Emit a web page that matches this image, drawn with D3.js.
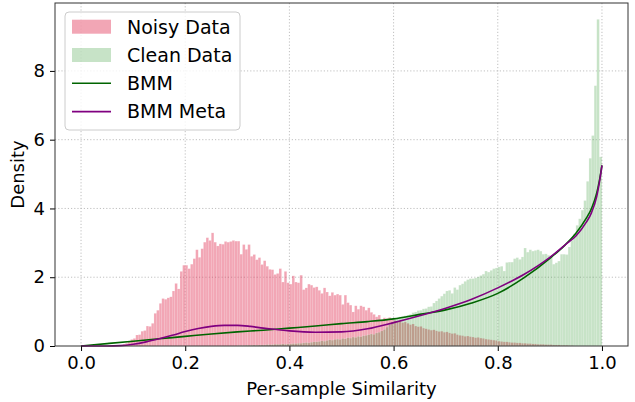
<!DOCTYPE html>
<html>
<head>
<meta charset="utf-8">
<script src="https://cdn.jsdelivr.net/npm/d3@7"></script>
<style>
  body { margin: 0; background: #fff; }
  svg { font-family: "DejaVu Sans", sans-serif; }
  .grid line { stroke: #b0b0b0; stroke-dasharray: 1.2,2; stroke-width: 0.8; }
</style>
</head>
<body>
<div id="chart"></div>
<script>
// histogram bins are 0.005 wide; each series lists densities from its first bin edge
var BIN_W = 0.005;

var noisyStart = 0.080;
var noisyDensity = [
  0.05, 0.08, 0.12, 0.19, 0.22, 0.32, 0.33, 0.43, 0.45, 0.58,
  0.57, 0.66, 0.95, 1.04, 1.24, 1.38, 1.36, 1.40, 1.43, 1.60,
  1.82, 1.66, 2.17, 2.35, 2.35, 2.25, 2.38, 2.54, 2.80, 2.58,
  2.83, 3.02, 3.15, 3.07, 3.29, 3.02, 2.91, 2.97, 2.96, 3.04,
  3.02, 3.04, 3.07, 3.05, 3.05, 2.67, 2.95, 2.81, 2.95, 2.61,
  2.66, 2.51, 2.57, 2.37, 2.48, 2.32, 2.23, 2.22, 2.08, 2.11,
  2.25, 1.86, 2.17, 1.84, 1.80, 2.04, 1.86, 1.84, 2.06, 1.64,
  1.69, 1.80, 1.77, 1.70, 1.72, 1.62, 1.53, 1.69, 1.57, 1.46,
  1.56, 1.48, 1.51, 1.48, 1.21, 1.48, 1.26, 1.19, 0.99, 1.17,
  1.07, 1.17, 1.14, 1.04, 1.11, 0.98, 0.92, 0.85, 0.90, 0.75,
  0.82, 0.80, 0.83, 0.78,
  0.74, 0.70, 0.72, 0.68, 0.70, 0.66, 0.62, 0.64, 0.58, 0.56,
  0.57, 0.52, 0.50, 0.48, 0.46, 0.47, 0.44, 0.42, 0.43, 0.40,
  0.41, 0.38, 0.36, 0.37, 0.33, 0.31, 0.30, 0.28, 0.29, 0.27,
  0.26, 0.24, 0.25, 0.23, 0.22, 0.20, 0.19, 0.18, 0.17, 0.16,
  0.14, 0.13, 0.12, 0.12, 0.11, 0.10, 0.10, 0.09, 0.09, 0.08,
  0.08, 0.07, 0.07, 0.06, 0.06, 0.05, 0.05, 0.05, 0.04, 0.04,
  0.04, 0.03, 0.03, 0.03, 0.02, 0.02, 0.02, 0.01, 0.01
];

var cleanStart = 0.300;
var cleanDensity = [
  0.01, 0.01, 0.01, 0.02, 0.02, 0.02, 0.03, 0.02, 0.03, 0.03,
  0.03, 0.04, 0.04, 0.04, 0.05, 0.05, 0.05, 0.06, 0.05, 0.06,
  0.06, 0.07, 0.07, 0.08, 0.08, 0.09, 0.10, 0.09, 0.11, 0.12,
  0.12, 0.13, 0.15, 0.14, 0.16, 0.18, 0.17, 0.19, 0.20, 0.19,
  0.22, 0.21, 0.24, 0.23, 0.26, 0.25, 0.28, 0.27, 0.30, 0.31,
  0.33, 0.35, 0.34, 0.38, 0.40, 0.44, 0.48, 0.55, 0.62, 0.70,
  0.80, 0.82, 0.85, 0.86, 0.88, 0.90, 0.92, 0.97, 0.99, 1.03,
  1.04, 1.08, 1.09, 1.14, 1.15, 1.25, 1.31, 1.38, 1.45, 1.52,
  1.60, 1.62, 1.53, 1.70, 1.64, 1.77, 1.81, 1.88, 1.93, 1.96,
  1.96, 1.98, 2.01, 2.05, 2.09, 2.18, 2.15, 2.20, 2.25, 2.27,
  2.30, 2.32, 2.18, 2.43, 2.44, 2.44, 2.54, 2.57, 2.52, 2.59,
  2.85, 2.73, 2.80, 2.76, 2.78, 2.80, 2.76, 2.67, 2.68, 2.64,
  2.59, 2.38, 2.42, 2.47, 2.67, 2.67, 2.66, 2.88, 3.07, 3.26,
  3.51, 3.70, 3.95, 4.23, 4.79, 5.46, 6.12, 7.57, 9.50, 5.50
];

// fitted mixture densities
var bmmX = [0, 0.05, 0.1, 0.15, 0.2, 0.25, 0.3, 0.35, 0.4, 0.45, 0.5, 0.55, 0.6, 0.65,
            0.7, 0.75, 0.8, 0.85, 0.9, 0.93, 0.95, 0.97, 0.98, 0.99, 0.995, 1.0];
var bmmY = [0, 0.07, 0.14, 0.21, 0.28, 0.35, 0.41, 0.46, 0.52, 0.58, 0.65, 0.71, 0.79, 0.92,
            1.05, 1.25, 1.53, 1.98, 2.55, 2.95, 3.28, 3.72, 4.0, 4.45, 4.8, 5.25];

var metaX = [0, 0.05, 0.075, 0.1, 0.125, 0.15, 0.175, 0.2, 0.225, 0.25, 0.275, 0.3, 0.325,
             0.35, 0.375, 0.4, 0.45, 0.5, 0.55, 0.6, 0.65, 0.7, 0.75, 0.8, 0.85, 0.9,
             0.93, 0.95, 0.97, 0.98, 0.99, 0.995, 1.0];
var metaY = [0, 0.0, 0.01, 0.05, 0.12, 0.21, 0.31, 0.42, 0.51, 0.57, 0.60, 0.60, 0.57,
             0.52, 0.48, 0.44, 0.40, 0.41, 0.50, 0.68, 0.88, 1.10, 1.36, 1.69, 2.08, 2.58,
             2.95, 3.2, 3.6, 3.88, 4.35, 4.75, 5.25];

var xTicks = [0.0, 0.2, 0.4, 0.6, 0.8, 1.0];
var yTicks = [0, 2, 4, 6, 8];

var legendItems = [
  {label: "Noisy Data", kind: "patch", key: "noisy"},
  {label: "Clean Data", kind: "patch", key: "clean"},
  {label: "BMM", kind: "line", key: "bmm"},
  {label: "BMM Meta", kind: "line", key: "meta"}
];

var colors = {
  noisy: {fill: "crimson", opacity: 0.38},
  clean: {fill: "green", opacity: 0.22},
  bmm: "#006400",
  meta: "#800080"
};

var W = 635, H = 402;
var margin = {top: 3, right: 7, bottom: 56, left: 55};
var width = W - margin.left - margin.right;
var height = H - margin.top - margin.bottom;

var svg = d3.select("#chart").append("svg")
    .attr("width", W)
    .attr("height", H);

var g = svg.append("g")
    .attr("transform", "translate(" + margin.left + "," + margin.top + ")");

var x = d3.scaleLinear().domain([-0.05, 1.05]).range([0, width]);
var yMax = d3.max(noisyDensity.concat(cleanDensity)) * 1.05;
var y = d3.scaleLinear().domain([0, yMax]).range([height, 0]);

// grid
g.append("g").attr("class", "grid")
  .selectAll("line.vx").data(xTicks).enter().append("line")
    .attr("x1", function (d) { return x(d); })
    .attr("x2", function (d) { return x(d); })
    .attr("y1", 0).attr("y2", height);
g.append("g").attr("class", "grid")
  .selectAll("line.hy").data(yTicks.slice(1)).enter().append("line")
    .attr("x1", 0).attr("x2", width)
    .attr("y1", function (d) { return y(d); })
    .attr("y2", function (d) { return y(d); });

function drawHist(values, start, style) {
  var bins = values.map(function (v, i) {
    return {x0: start + i * BIN_W, x1: start + (i + 1) * BIN_W, v: v};
  });
  g.append("g").selectAll("rect").data(bins).enter().append("rect")
      .attr("x", function (d) { return x(d.x0); })
      .attr("width", function (d) { return x(d.x1) - x(d.x0); })
      .attr("y", function (d) { return y(d.v); })
      .attr("height", function (d) { return y(0) - y(d.v); })
      .attr("fill", style.fill)
      .attr("fill-opacity", style.opacity)
      .attr("stroke", "#fff")
      .attr("stroke-opacity", 0.35)
      .attr("stroke-width", 0.4);
}

drawHist(noisyDensity, noisyStart, colors.noisy);
drawHist(cleanDensity, cleanStart, colors.clean);

var line = d3.line()
    .x(function (d) { return x(d[0]); })
    .y(function (d) { return y(d[1]); })
    .curve(d3.curveMonotoneX);

g.append("path")
    .datum(d3.zip(bmmX, bmmY))
    .attr("d", line)
    .attr("fill", "none")
    .attr("stroke", colors.bmm)
    .attr("stroke-width", 1.6);

g.append("path")
    .datum(d3.zip(metaX, metaY))
    .attr("d", line)
    .attr("fill", "none")
    .attr("stroke", colors.meta)
    .attr("stroke-width", 1.6);

// axes
var xAxis = d3.axisBottom(x).tickValues(xTicks).tickFormat(d3.format(".1f")).tickSize(5).tickPadding(5);
var yAxis = d3.axisLeft(y).tickValues(yTicks).tickFormat(d3.format("d")).tickSize(5).tickPadding(5);

var gx = g.append("g").attr("transform", "translate(0," + height + ")").call(xAxis);
var gy = g.append("g").call(yAxis);
[gx, gy].forEach(function (a) {
  a.select(".domain").remove();
  a.selectAll("text").attr("font-size", 18).attr("fill", "#000")
      .attr("font-family", "DejaVu Sans");
  a.selectAll("line").attr("stroke", "#000").attr("stroke-width", 1);
});

// frame
g.append("rect")
    .attr("x", 0).attr("y", 0)
    .attr("width", width).attr("height", height)
    .attr("fill", "none")
    .attr("stroke", "#333")
    .attr("stroke-width", 1);

svg.append("text")
    .attr("x", margin.left + x(0.5))
    .attr("y", 395)
    .attr("text-anchor", "middle")
    .attr("font-size", 18)
    .text("Per-sample Similarity");

svg.append("text")
    .attr("transform", "translate(24," + (margin.top + height / 2) + ") rotate(-90)")
    .attr("text-anchor", "middle")
    .attr("font-size", 18)
    .text("Density");

// legend
var leg = svg.append("g").attr("transform", "translate(65,12)");
leg.append("rect")
    .attr("width", 175).attr("height", 118)
    .attr("rx", 4)
    .attr("fill", "#fff").attr("fill-opacity", 0.8)
    .attr("stroke", "#ccc").attr("stroke-width", 1);

var rows = leg.selectAll("g.row").data(legendItems).enter().append("g")
    .attr("transform", function (d, i) { return "translate(0," + (14.7 + i * 28.3) + ")"; });

rows.filter(function (d) { return d.kind === "patch"; }).append("rect")
    .attr("x", 7).attr("y", -7).attr("width", 39).attr("height", 14)
    .attr("fill", function (d) { return colors[d.key].fill; })
    .attr("fill-opacity", function (d) { return colors[d.key].opacity; });

rows.filter(function (d) { return d.kind === "line"; }).append("line")
    .attr("x1", 7).attr("x2", 46).attr("y1", 0).attr("y2", 0)
    .attr("stroke", function (d) { return colors[d.key]; })
    .attr("stroke-width", 1.6);

rows.append("text")
    .attr("x", 62).attr("dy", "0.36em")
    .attr("font-size", 19)
    .text(function (d) { return d.label; });
</script>
</body>
</html>
